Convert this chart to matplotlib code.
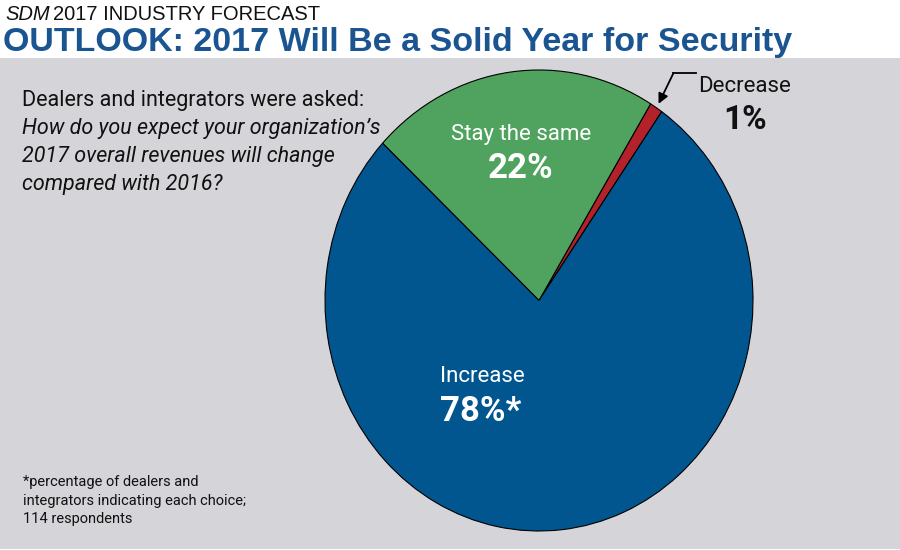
import numpy as np
import matplotlib
matplotlib.use("Agg")
import matplotlib.pyplot as plt
from matplotlib.patches import Rectangle
from matplotlib.lines import Line2D

# ---------- data ----------
labels = ["Decrease", "Stay the same", "Increase"]
values = [1, 22, 78]
colors = ["#b3212b", "#4fa35e", "#02568f"]
label_colors = ["#111111", "white", "white"]

supertitle = "2017 INDUSTRY FORECAST"
title = "OUTLOOK: 2017 Will Be a Solid Year for Security"
question_1 = "Dealers and integrators were asked:"
question_2 = ["How do you expect your organization\u2019s",
              "2017 overall revenues will change",
              "compared with 2016?"]
footnote = ["*percentage of dealers and",
            "integrators indicating each choice;",
            "114 respondents"]

W, H = 900, 550
plt.rcParams["font.family"] = ["Roboto", "DejaVu Sans"]


def fx(px):
    return px / W


def fy(py):
    return 1 - py / H


fig = plt.figure(figsize=(9, 5.5), dpi=100, facecolor="white")

# gray panel
fig.patches.append(Rectangle((0, fy(549)), 1, (549 - 57.5) / H,
                             transform=fig.transFigure, facecolor="#d5d4d8",
                             edgecolor="none", zorder=-5))

# header
fig.text(fx(5), fy(20), "SDM", style="italic", fontsize=14.5, color="#111111",
         va="baseline", family=["Liberation Sans", "DejaVu Sans"])
fig.text(fx(53), fy(20), supertitle, fontsize=14.5, color="#111111",
         va="baseline", family=["Liberation Sans", "DejaVu Sans"])
fig.text(fx(3), fy(51), title, fontsize=24.5, fontweight="bold", color="#1b5591",
         va="baseline", family=["Liberation Sans", "DejaVu Sans"])

# question text
fig.text(fx(22), fy(106), question_1, fontsize=15.5, color="#111111", va="baseline")
for i, line in enumerate(question_2):
    fig.text(fx(22), fy(134 + i * 28), line, fontsize=15.5, style="italic",
             color="#111111", va="baseline")

# footnote
for i, line in enumerate(footnote):
    fig.text(fx(23), fy(486 + i * 18.5), line, fontsize=10.5, color="#111111",
             va="baseline")

# ---------- pie ----------
x0, x1, y0, y1 = 325, 753, 70, 531
ax = fig.add_axes([fx(x0), fy(y1), (x1 - x0) / W, (y1 - y0) / H], zorder=2)
wedges, _ = ax.pie(values, colors=colors, startangle=55, counterclock=True,
                   wedgeprops=dict(edgecolor="black", linewidth=0.8))
ax.set_aspect("auto")
ax.set_xlim(-1, 1)
ax.set_ylim(-1, 1)
ax.axis("off")

# labels inside wedges
pos = {"Stay the same": (521, 140, 178, "center"),
       "Increase": (440, 382, 421, "left")}
for lab, val, col in zip(labels, values, label_colors):
    if lab == "Decrease":
        fig.text(fx(698), fy(92), lab, fontsize=16, color=col, va="baseline",
                 zorder=5)
        fig.text(fx(745), fy(129), f"{val}%", fontsize=24, fontweight="bold",
                 color=col, va="baseline", ha="center", zorder=5)
    else:
        x, ya, yb, ha = pos[lab]
        star = "*" if lab == "Increase" else ""
        fig.text(fx(x), fy(ya), lab, fontsize=16, color=col, va="baseline",
                 ha=ha, zorder=5)
        fig.text(fx(x), fy(yb), f"{val}%{star}", fontsize=25, fontweight="bold",
                 color=col, va="baseline", ha=ha, zorder=5)

# arrow to the small wedge
w = wedges[0]
mid = np.deg2rad((w.theta1 + w.theta2) / 2)
fig.lines.append(Line2D([fx(673), fx(696)], [fy(73), fy(73)],
                        transform=fig.transFigure, color="black", lw=1.3))
ax.annotate("", xy=(1.02 * np.cos(mid), 1.02 * np.sin(mid)), xycoords="data",
            xytext=(fx(673.5), fy(73)), textcoords="figure fraction",
            arrowprops=dict(arrowstyle="-|>,head_length=0.6,head_width=0.3",
                            color="black", lw=1.3, shrinkA=0, shrinkB=0),
            annotation_clip=False)

fig.savefig("out.png", dpi=100, facecolor="white")
